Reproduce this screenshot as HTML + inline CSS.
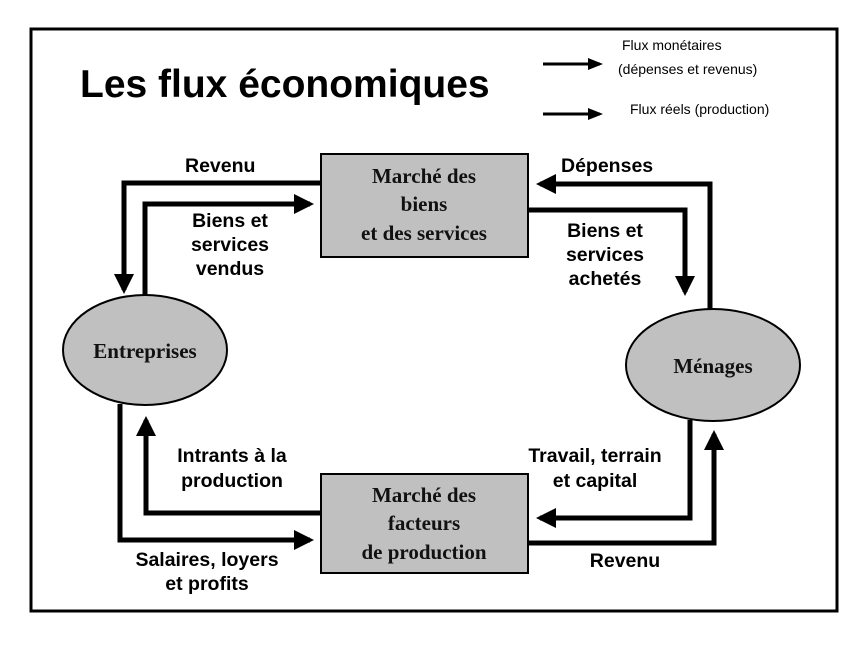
<!DOCTYPE html>
<html><head><meta charset="utf-8"><style>
html,body{margin:0;padding:0;background:#fff;}
svg{display:block;}
.s{font-family:"Liberation Sans",sans-serif;font-weight:bold;font-size:19.5px;fill:#000;}
.r{font-family:"Liberation Serif",serif;font-weight:bold;font-size:21px;fill:#111;}
.l{font-family:"Liberation Sans",sans-serif;font-size:14px;fill:#000;}
</style></head><body>
<svg width="860" height="645" viewBox="0 0 860 645" xmlns="http://www.w3.org/2000/svg">
<defs>
<marker id="a" markerWidth="4" markerHeight="4" refX="3.2" refY="2" orient="auto" markerUnits="strokeWidth"><path d="M0,0 L4,2 L0,4 z" fill="#000"/></marker>
<marker id="b" markerWidth="5" markerHeight="4" refX="4" refY="2" orient="auto" markerUnits="strokeWidth"><path d="M0,0 L5,2 L0,4 z" fill="#000"/></marker>
</defs>
<rect x="31" y="29" width="806" height="582" fill="none" stroke="#000" stroke-width="3"/>
<text x="80" y="97" font-family="Liberation Sans,sans-serif" font-weight="bold" font-size="39" fill="#000">Les flux économiques</text>
<line x1="543" y1="64" x2="600" y2="64" stroke="#000" stroke-width="3" marker-end="url(#b)"/>
<line x1="543" y1="114" x2="600" y2="114" stroke="#000" stroke-width="3" marker-end="url(#b)"/>
<text class="l" x="622" y="50">Flux monétaires</text>
<text class="l" x="618" y="74">(dépenses et revenus)</text>
<text class="l" x="630" y="114">Flux réels (production)</text>

<rect x="321" y="154" width="207" height="103" fill="#c0c0c0" stroke="#000" stroke-width="2"/>
<text class="r" text-anchor="middle" x="424" y="183">Marché des</text>
<text class="r" text-anchor="middle" x="424" y="211">biens</text>
<text class="r" text-anchor="middle" x="424" y="240">et des services</text>

<rect x="321" y="474" width="207" height="99" fill="#c0c0c0" stroke="#000" stroke-width="2"/>
<text class="r" text-anchor="middle" x="424" y="502">Marché des</text>
<text class="r" text-anchor="middle" x="424" y="530">facteurs</text>
<text class="r" text-anchor="middle" x="424" y="559">de production</text>

<ellipse cx="145" cy="350" rx="82" ry="55" fill="#c0c0c0" stroke="#000" stroke-width="2"/>
<text class="r" text-anchor="middle" x="145" y="358">Entreprises</text>
<ellipse cx="713" cy="365" rx="87" ry="56" fill="#c0c0c0" stroke="#000" stroke-width="2"/>
<text class="r" text-anchor="middle" x="713" y="373">Ménages</text>

<g fill="none" stroke="#000" stroke-width="5">
<polyline points="321,183 124,183 124,290" marker-end="url(#a)"/>
<polyline points="145,296 145,204 310,204" marker-end="url(#a)"/>
<polyline points="710,310 710,184 540,184" marker-end="url(#a)"/>
<polyline points="528,210 685,210 685,292" marker-end="url(#a)"/>
<polyline points="321,513 146,513 146,420" marker-end="url(#a)"/>
<polyline points="120,404 120,540 310,540" marker-end="url(#a)"/>
<polyline points="690,420 690,518 540,518" marker-end="url(#a)"/>
<polyline points="528,543 714,543 714,434" marker-end="url(#a)"/>
</g>

<text class="s" x="185" y="172">Revenu</text>
<text class="s" text-anchor="middle" x="230" y="227">Biens et</text>
<text class="s" text-anchor="middle" x="230" y="251">services</text>
<text class="s" text-anchor="middle" x="230" y="275">vendus</text>
<text class="s" x="561" y="172">Dépenses</text>
<text class="s" text-anchor="middle" x="605" y="237">Biens et</text>
<text class="s" text-anchor="middle" x="605" y="261">services</text>
<text class="s" text-anchor="middle" x="605" y="285">achetés</text>
<text class="s" text-anchor="middle" x="232" y="462">Intrants à la</text>
<text class="s" text-anchor="middle" x="232" y="487">production</text>
<text class="s" text-anchor="middle" x="595" y="462">Travail, terrain</text>
<text class="s" text-anchor="middle" x="595" y="487">et capital</text>
<text class="s" text-anchor="middle" x="207" y="566">Salaires, loyers</text>
<text class="s" text-anchor="middle" x="207" y="590">et profits</text>
<text class="s" text-anchor="middle" x="625" y="567">Revenu</text>
</svg>
</body></html>
